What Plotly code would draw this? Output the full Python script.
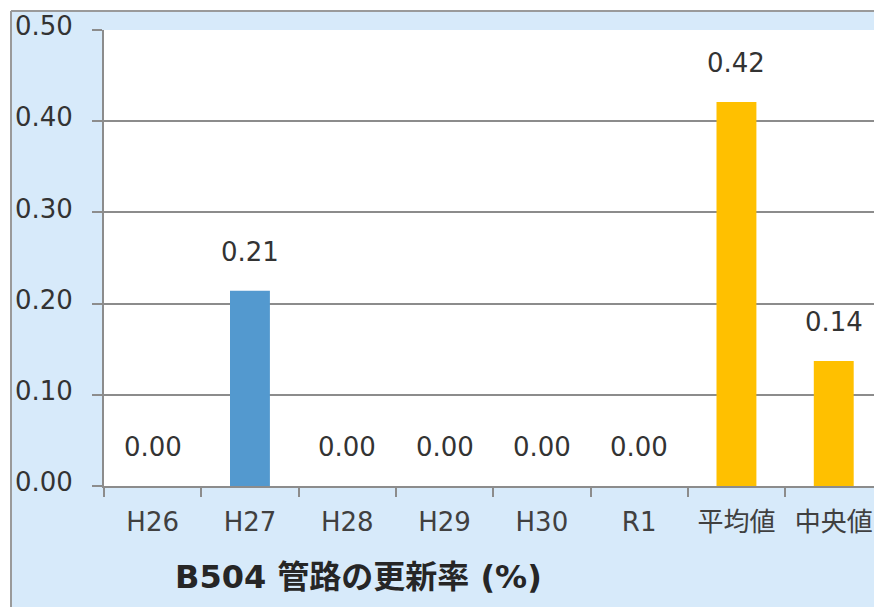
import plotly.graph_objects as go

# Renewal rate of pipelines (B504), by fiscal year plus average / median
categories = ["H26", "H27", "H28", "H29", "H30", "R1", "平均値", "中央値"]
values = [0.0, 0.214, 0.0, 0.0, 0.0, 0.0, 0.421, 0.137]
bar_colors = ["#5399cf"] * 6 + ["#ffc000"] * 2
y_ticks = [0.0, 0.1, 0.2, 0.3, 0.4, 0.5]
title_text = "B504 管路の更新率 (%)"

W, H = 874, 607
ML, MR, MT, MB = 104, 0, 30, 121
PW, PH = W - ML - MR, H - MT - MB

def px_x(px):
    return (px - ML) / PW

def px_y(py):
    return (H - MB - py) / PH

FONT = "DejaVu Sans, Noto Sans CJK JP, sans-serif"
GRID = "#8c8c8c"
BG = "#d7eafa"

fig = go.Figure(
    go.Bar(
        x=categories,
        y=values,
        marker=dict(color=bar_colors, line=dict(width=0)),
        width=0.41,
        hoverinfo="skip",
    )
)

# value labels above each bar
for c, v in zip(categories, values):
    fig.add_annotation(
        x=c, y=v, xref="x", yref="y",
        text=f"{v:.2f}", showarrow=False,
        yanchor="bottom", yshift=22,
        font=dict(family=FONT, size=26, color="#333333"),
    )

# chart title below the category axis
fig.add_annotation(
    x=px_x(173), y=px_y(577), xref="paper", yref="paper",
    text=f"<b>{title_text}</b>", showarrow=False,
    xanchor="left", yanchor="middle",
    font=dict(family=FONT, size=32, color="#262626"),
)

shapes = [
    # white margin outside the chart frame
    dict(type="rect", xref="paper", yref="paper", x0=px_x(-5), x1=px_x(11),
         y0=px_y(H + 5), y1=px_y(-5), fillcolor="white", line=dict(width=0), layer="above"),
    dict(type="rect", xref="paper", yref="paper", x0=px_x(-5), x1=px_x(W + 5),
         y0=px_y(11), y1=px_y(-5), fillcolor="white", line=dict(width=0), layer="above"),
    # chart frame border
    dict(type="line", xref="paper", yref="paper", x0=px_x(11), x1=px_x(W + 5),
         y0=px_y(11), y1=px_y(11), line=dict(color="#9a9a9a", width=2), layer="above"),
    dict(type="line", xref="paper", yref="paper", x0=px_x(11), x1=px_x(11),
         y0=px_y(11), y1=px_y(H + 5), line=dict(color="#9a9a9a", width=2), layer="above"),
]

fig.update_layout(
    width=W, height=H, autosize=False,
    margin=dict(l=ML, r=MR, t=MT, b=MB, pad=0),
    paper_bgcolor=BG, plot_bgcolor="white",
    showlegend=False,
    shapes=shapes,
    font=dict(family=FONT, size=26, color="#333333"),
    xaxis=dict(
        type="category",
        range=[-0.5, 7.5 - (ML + 8 * 97.3 - W) / 97.3],
        tickson="boundaries",
        ticks="outside", ticklen=9, tickwidth=1.5, tickcolor=GRID,
        showline=True, linecolor=GRID, linewidth=2,
        showgrid=False,
        tickfont=dict(family=FONT, size=26, color="#404040"),
        ticklabelstandoff=12,
        fixedrange=True,
    ),
    yaxis=dict(
        range=[0, 0.5],
        tickvals=y_ticks,
        tickformat=".2f",
        ticks="outside", ticklen=10, tickwidth=1.5, tickcolor=GRID,
        showline=True, linecolor=GRID, linewidth=2,
        showgrid=True, gridcolor=GRID, gridwidth=1.5,
        zeroline=False,
        tickfont=dict(family=FONT, size=26, color="#333333"),
        ticklabelstandoff=14,
        ticklabelshift=-4,
        fixedrange=True,
    ),
)

fig.write_html("out.html", config={"displayModeBar": False})
